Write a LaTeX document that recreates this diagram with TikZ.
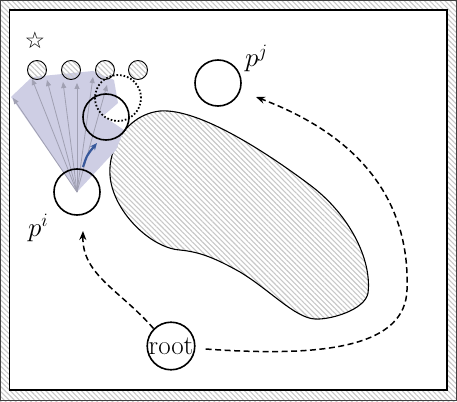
\RequirePackage{fix-cm}
\documentclass[tikz,border=0pt]{standalone}
\usepackage{fontspec}
\newfontfamily\symfont{DejaVu Sans}
\usetikzlibrary{arrows.meta,patterns.meta}
\definecolor{fanfill}{RGB}{206,206,228}
\definecolor{fanarrow}{RGB}{160,160,178}
\definecolor{bluearrow}{RGB}{55,88,155}
\definecolor{hatch}{RGB}{200,200,200}
\tikzset{
  hatched/.style={pattern={Lines[angle=-45,distance=3.6pt,line width=1.1pt]},pattern color=hatch},
  pcircle/.style={circle,draw,line width=1.6pt,minimum size=46pt,inner sep=0pt},
  gcircle/.style={circle,draw,line width=0.9pt,minimum size=19pt,inner sep=0pt,hatched},
  bigtext/.style={font=\fontsize{27}{29}\selectfont,inner sep=0pt},
  dasharrow/.style={line width=1.5pt,dash pattern=on 6pt off 3.5pt,-{Stealth[length=9pt,width=7pt]}},
  fanline/.style={fanarrow,line width=0.8pt,-{Triangle[length=6pt,width=5pt]}}
}
\begin{document}
\begin{tikzpicture}[x=1pt,y=-1pt]
\useasboundingbox (0,0) rectangle (457,401);
% frame
\fill[hatched] (0,0) rectangle (457,401);
\draw[black!75,line width=0.8pt] (0.4,0.4) rectangle (456.6,400.6);
\draw[fill=white,line width=1.2pt] (9.5,10) rectangle (447,390);
% obstacle
\draw[hatched,line width=1.1pt] (110,175)
  .. controls (108,150) and (125,115) .. (160,111)
  .. controls (200,108) and (270,155) .. (310,185)
  .. controls (350,215) and (372,260) .. (368,293)
  .. controls (365,310) and (330,320) .. (315,319)
  .. controls (295,318) and (270,290) .. (240,272)
  .. controls (215,258) and (200,252) .. (180,250)
  .. controls (150,248) and (112,210) .. (110,175) -- cycle;
% fan
\fill[fanfill] (77,192) -- (11,97) -- (32,77) -- (93,71) -- (114,80) -- (118,103)
  -- (103,116) -- (124,130) -- (116,150) -- cycle;
\coordinate (apex) at (77,192);
\foreach \t in {(13,98),(32,79),(47,80),(63,82),(77,83),(93,77),(107,85)}
  \draw[fanline] (apex) -- \t;
% gray small circles
\node[gcircle] (g1) at (37,70) {};
\node[gcircle] (g2) at (71,70) {};
\node[gcircle] (g3) at (105,70) {};
\node[gcircle] (g4) at (138,70) {};
\node[inner sep=0pt,font=\symfont\fontsize{23}{24}\selectfont] (star) at (35,40) {☆};
% robot circles
\node[pcircle] (pi) at (77,192) {};
\node[pcircle] (pn) at (106,117) {};
\node[pcircle,dotted,line width=1.8pt] (pd) at (118,98) {};
\node[pcircle] (pj) at (218,83) {};
\node[pcircle,bigtext] (root) at (171,346) {root};
% labels
\node[bigtext,anchor=base west] (lpi) at (28,236) {$p^i$};
\node[bigtext,anchor=base west] (lpj) at (245,67) {$p^j$};
% blue arrow
\coordinate (b1) at (83,167);
\coordinate (b2) at (97,143);
\draw[bluearrow,line width=2.2pt,-{Stealth[length=7pt,width=6pt]}] (b1) .. controls (87,155) .. (b2);
% dashed paths
\coordinate (e1) at (83,231);
\coordinate (e2) at (256,97);
\draw[dasharrow] (root.135) .. controls (120,290) and (82,275) .. (e1);
\draw[dasharrow] (root.east) ++(10,3) .. controls (330,358) and (405,345) .. (407,290)
  .. controls (410,210) and (370,140) .. (e2);
\end{tikzpicture}
\end{document}
